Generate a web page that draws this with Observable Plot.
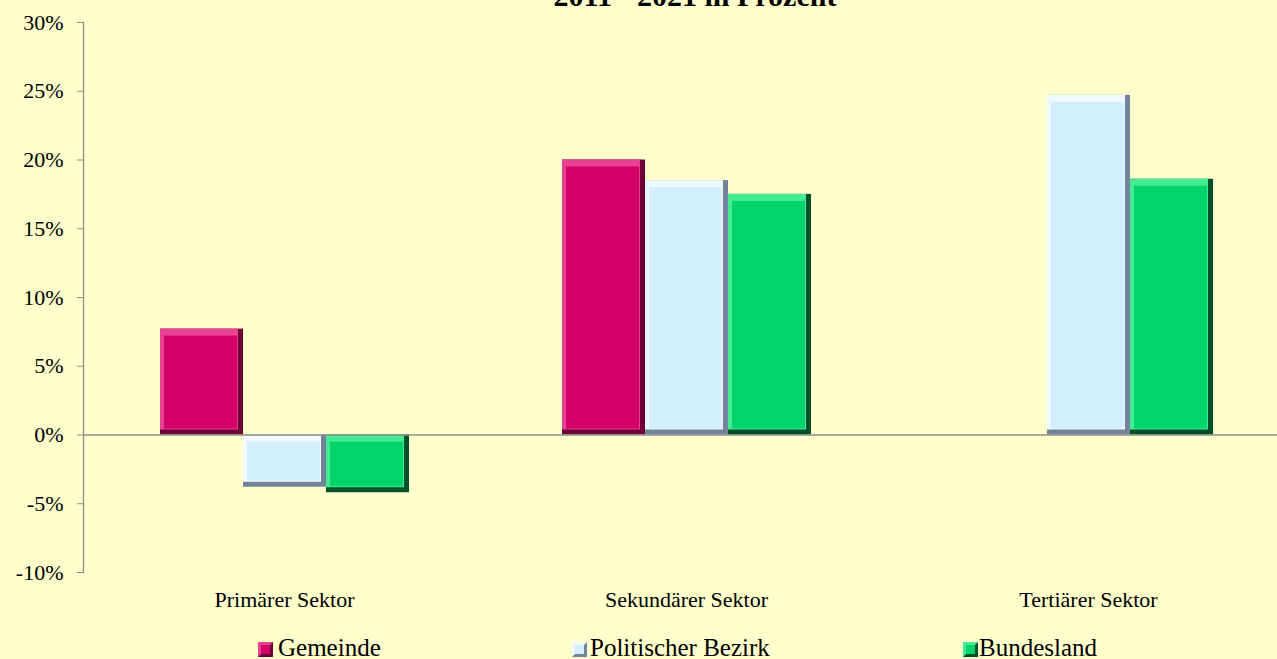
<!DOCTYPE html>
<html>
<head>
<meta charset="utf-8">
<script src="https://cdn.jsdelivr.net/npm/d3@7"></script>
<script src="https://cdn.jsdelivr.net/npm/@observablehq/plot@0.6"></script>
<style>
  html, body { margin: 0; padding: 0; background: #FFFFCC; }
  body { width: 1277px; height: 659px; overflow: hidden; position: relative;
         font-family: "Liberation Serif", "Times New Roman", serif; color: #000; }
  #title { position: absolute; top: -19px; left: 0; width: 1390px; text-align: center;
           font-weight: bold; font-size: 30px; line-height: 1; white-space: nowrap; }
  #chart { position: absolute; top: 0; left: 0; }
  .leg { position: absolute; top: 638px; font-size: 25px; line-height: 20px; white-space: nowrap; }
  .sw { position: absolute; top: 4px; left: 0; width: 9px; height: 9px; border: 3px solid; }
</style>
</head>
<body>
<div id="title">2011 - 2021 in Prozent</div>
<div id="chart"></div>
<div id="legend"></div>
<script>
// ---- data ----
const categories = ["Primärer Sektor", "Sekundärer Sektor", "Tertiärer Sektor"];
const series = ["Gemeinde", "Politischer Bezirk", "Bundesland"];
const gemeinde = [7.7, 20.0, null];
const bezirk = [-3.8, 18.5, 24.7];
const bundesland = [-4.2, 17.5, 18.6];
const yTicks = [-10, -5, 0, 5, 10, 15, 20, 25, 30];

const mainColors = ["#D4006A", "#D3EFFD", "#00D46B"];
const lightColors = ["#E8418F", "#EEFAFF", "#45EA95"];
const darkColors = ["#6E0035", "#71849A", "#00502A"];

const seriesValues = [gemeinde, bezirk, bundesland];
const data = categories.flatMap((c, i) =>
  series.map((s, j) => ({ category: c, series: s, value: seriesValues[j][i] }))
).filter(d => d.value != null);

const idx = d => series.indexOf(d.series);
const common = { fx: "category", x: "series", y: "value" };

const chart = Plot.plot({
  width: 1289,
  height: 625,
  marginLeft: 82,
  marginRight: 0,
  marginTop: 22,
  marginBottom: 53,
  style: { background: "transparent", maxWidth: "none", overflow: "visible",
           fontFamily: "'Liberation Serif', 'Times New Roman', serif", color: "#000" },
  fx: { domain: categories, padding: 0, label: null, axis: null },
  x: { domain: series, paddingInner: 0.004, paddingOuter: 0.895, axis: null },
  y: { domain: [-10, 30], label: null, axis: null },
  color: { domain: series, range: mainColors },
  marks: [
    Plot.barY(data, { ...common, fill: d => darkColors[idx(d)] }),
    Plot.barY(data, { ...common, fill: d => lightColors[idx(d)], insetRight: 5, insetBottom: 5 }),
    Plot.barY(data, { ...common, fill: "series", insetTop: 7, insetLeft: 4, insetRight: 6, insetBottom: 6 }),
    Plot.ruleY([0], { stroke: "#8c8c8c", strokeWidth: 1.3 }),
    Plot.frame({ anchor: "left", facetAnchor: "left", stroke: "#8c8c8c", strokeWidth: 1.3 }),
    Plot.axisY({ ticks: yTicks, tickFormat: d => d + "%", tickSize: 6, tickPadding: 14,
                 fontSize: 22, stroke: "#8c8c8c", fill: "#000", label: null }),
    Plot.axisFx({ anchor: "bottom", tickSize: 0, tickPadding: 19, fontSize: 22, fill: "#000", label: null })
  ]
});
document.getElementById("chart").appendChild(chart);

// ---- legend ----
const legendX = [258, 572, 963];
const textOffset = [20, 18, 16];
const legend = document.getElementById("legend");
series.forEach((s, j) => {
  const item = document.createElement("div");
  item.className = "leg";
  item.style.left = legendX[j] + "px";
  item.style.paddingLeft = textOffset[j] + "px";
  const sw = document.createElement("span");
  sw.className = "sw";
  sw.style.background = mainColors[j];
  sw.style.borderColor = `${lightColors[j]} ${darkColors[j]} ${darkColors[j]} ${lightColors[j]}`;
  item.appendChild(sw);
  item.appendChild(document.createTextNode(s));
  legend.appendChild(item);
});
</script>
</body>
</html>
